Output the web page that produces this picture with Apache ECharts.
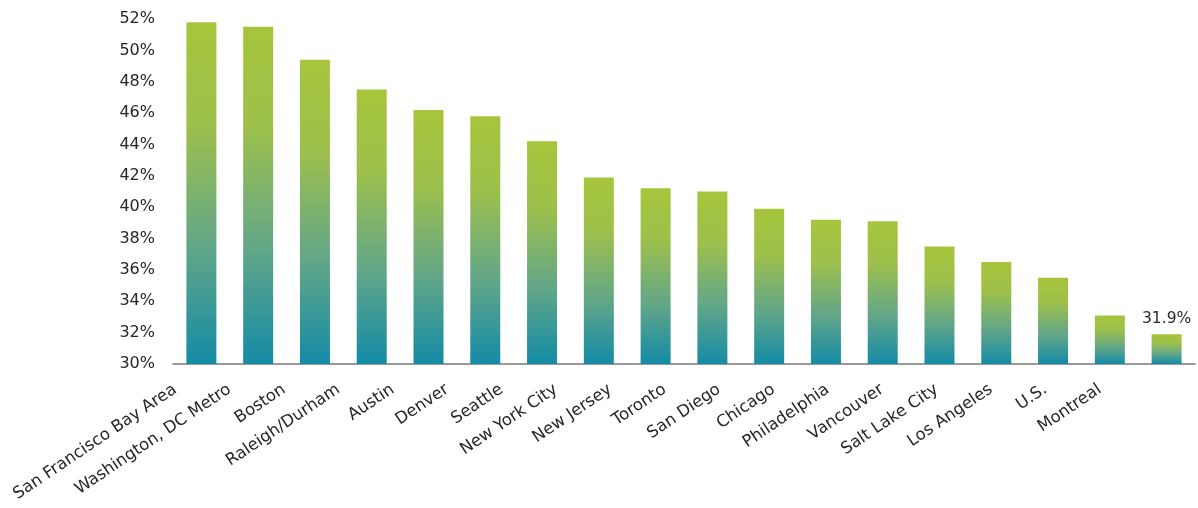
<!DOCTYPE html>
<html>
<head>
<meta charset="utf-8">
<script src="https://cdn.jsdelivr.net/npm/echarts@6/dist/echarts.min.js"></script>
<style>
html,body{margin:0;padding:0;background:#ffffff;}
#chart{width:1198px;height:508px;}
</style>
</head>
<body>
<div id="chart"></div>
<script>
const categories = ["San Francisco Bay Area","Washington, DC Metro","Boston","Raleigh/Durham","Austin","Denver","Seattle","New York City","New Jersey","Toronto","San Diego","Chicago","Philadelphia","Vancouver","Salt Lake City","Los Angeles","U.S.","Montreal"];
const values = [51.8,51.5,49.4,47.5,46.2,45.8,44.2,41.9,41.2,41.0,39.9,39.2,39.1,37.5,36.5,35.5,33.1,31.9];
const labelledIndex = 17;
const yMin = 30, yMax = 52, yStep = 2;

const FONT = "'DejaVu Sans', sans-serif";
const gradient = new echarts.graphic.LinearGradient(0,0,0,1,[
  {offset:0,color:'#a6c53b'},
  {offset:0.3,color:'#9dc04c'},
  {offset:0.65,color:'#64a787'},
  {offset:1,color:'#148ba6'}
]);

const seriesData = values.map((v,i)=>{
  const d = {value:v};
  if(i===labelledIndex){
    d.label = {show:true,position:'top',distance:7,formatter:p=>p.value.toFixed(1)+'%',
      fontFamily:FONT,fontSize:15.5,color:'#2a2a2a'};
  }
  return d;
});

const chart = echarts.init(document.getElementById('chart'),null,{renderer:'canvas'});
chart.setOption({
  animation:false,
  backgroundColor:'#ffffff',
  grid:[
    {left:173,right:3,top:19,bottom:144},
    {left:148,right:71,top:19,bottom:144}
  ],
  xAxis:[
    {type:'category',gridIndex:0,data:categories,
     axisLine:{lineStyle:{color:'#9a9a9a',width:2}},
     axisTick:{show:false},axisLabel:{show:false},splitLine:{show:false}},
    {type:'category',gridIndex:1,data:categories,
     axisLine:{show:false},axisTick:{show:false},splitLine:{show:false},
     axisLabel:{interval:0,rotate:34,margin:24,fontFamily:FONT,fontSize:16.5,color:'#262626'}}
  ],
  yAxis:[
    {type:'value',gridIndex:0,min:yMin,max:yMax,interval:yStep,
     axisLine:{show:false},axisTick:{show:false},splitLine:{show:false},
     axisLabel:{formatter:'{value}%',margin:18,fontFamily:FONT,fontSize:16,color:'#262626'}},
    {type:'value',gridIndex:1,min:yMin,max:yMax,show:false}
  ],
  series:[{
    type:'bar',xAxisIndex:0,yAxisIndex:0,data:seriesData,
    barWidth:30,
    itemStyle:{color:gradient}
  }]
});
</script>
</body>
</html>
